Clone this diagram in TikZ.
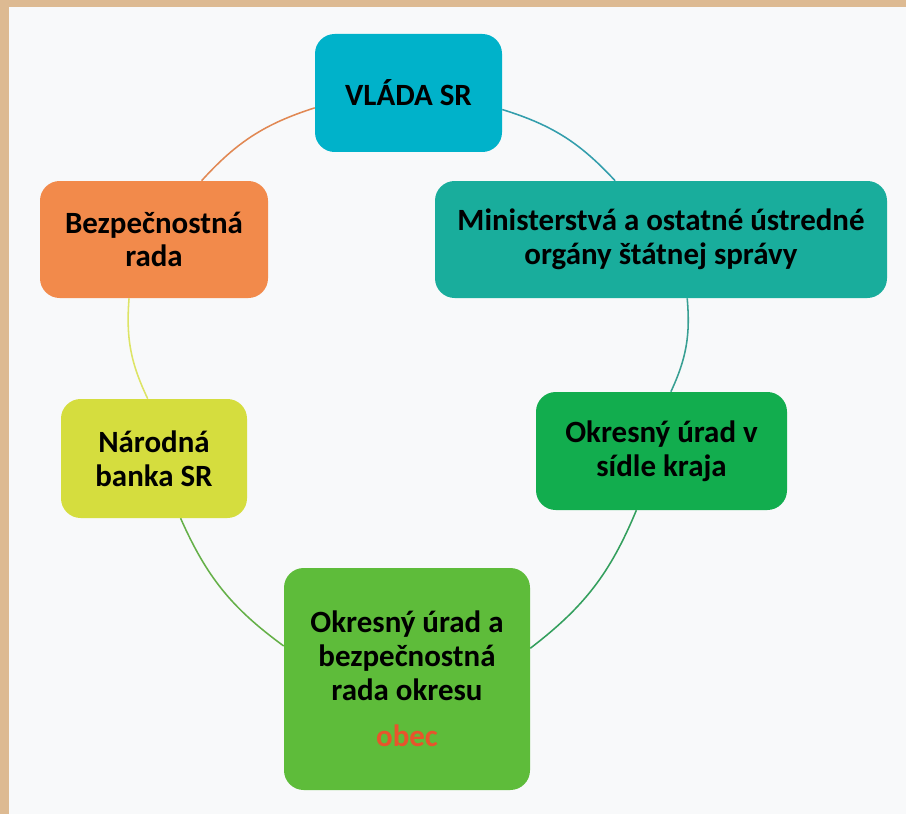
\documentclass[tikz,border=0pt]{standalone}
\usepackage{fontspec}
\setmainfont{Carlito}
\usepackage{tikz}

\definecolor{bgcol}{HTML}{F8F9FA}
\definecolor{framecol}{HTML}{DDBA92}
\definecolor{vladacol}{HTML}{00B2CA}
\definecolor{mincol}{HTML}{19AD9C}
\definecolor{krajcol}{HTML}{12AD4E}
\definecolor{okrescol}{HTML}{5EBC3A}
\definecolor{bankacol}{HTML}{D5DD3E}
\definecolor{bezpcol}{HTML}{F28A4B}
\definecolor{obeccol}{HTML}{E8542C}

\begin{document}
\begin{tikzpicture}[x=0.025cm, y=-0.025cm,
  box/.style={rounded corners=14pt, align=center, inner sep=0pt,
    font=\fontsize{22}{24}\selectfont\bfseries},
  link/.style={line width=1.1pt, bend left=#1},
  link/.default=15]

\useasboundingbox (0,0) rectangle (906,814);

% background and frame
\fill[bgcol] (0,0) rectangle (906,814);
\fill[framecol] (0,0) rectangle (9,814);
\fill[framecol] (0,0) rectangle (906,7);

% boxes
\node[box, fill=vladacol, minimum width=187*0.025cm, minimum height=118*0.025cm]
  (vlada) at (408.5,93) {VLÁDA SR};
\node[box, fill=mincol, minimum width=452*0.025cm, minimum height=117*0.025cm]
  (min) at (661,239.5) {Ministerstvá a ostatné ústredné\\orgány štátnej správy};
\node[box, fill=krajcol, minimum width=251*0.025cm, minimum height=118*0.025cm]
  (kraj) at (661.5,451) {Okresný úrad v\\sídle kraja};
\node[box, fill=okrescol, minimum width=246*0.025cm, minimum height=222*0.025cm]
  (okres) at (407,679) {Okresný úrad a\\bezpečnostná\\rada okresu\\[9pt]{\color{obeccol}obec}};
\node[box, fill=bankacol, minimum width=186*0.025cm, minimum height=119*0.025cm]
  (banka) at (154,458.5) {Národná\\banka SR};
\node[box, fill=bezpcol, minimum width=228*0.025cm, minimum height=117*0.025cm]
  (bezp) at (154,239.5) {Bezpečnostná\\rada};

% links round the circle
\draw[link, color=vladacol!60!gray] (vlada.-10) to (min.128);
\draw[link, color=mincol!70!gray] (min.-66) to (kraj.81);
\draw[link, color=krajcol!70!gray] (kraj.-113) to (okres.14);
\draw[link, color=okrescol!80!gray] (okres.165) to (banka.-66);
\draw[link, color=bankacol!80!white] (banka.96) to (bezp.-113);
\draw[link, color=bezpcol!85!gray] (bezp.51) to (vlada.-171);

\end{tikzpicture}
\end{document}
